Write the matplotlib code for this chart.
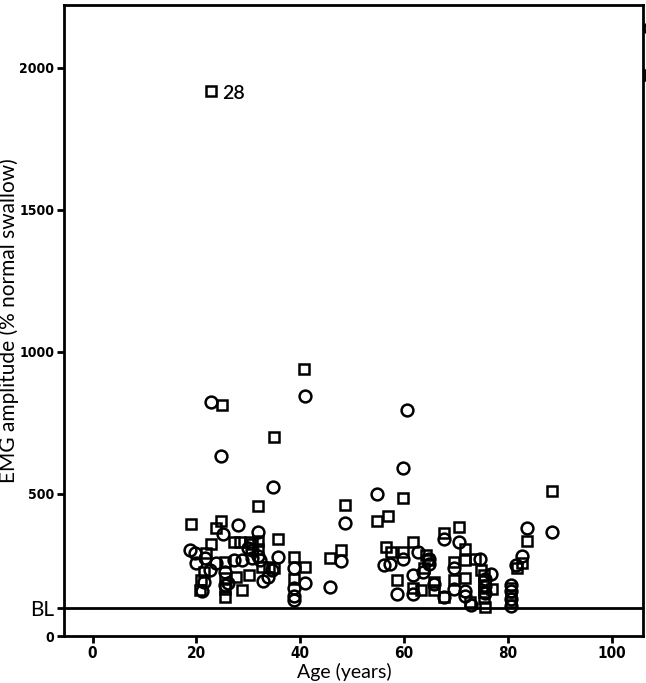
import matplotlib
matplotlib.use("Agg")
import matplotlib.pyplot as plt

# circles: age, amplitude
circ_age = [18.8, 19.7, 19.9, 21.0, 21.5, 21.7, 22.6, 22.9, 23.7, 24.8, 25.2, 25.6,
            25.6, 26.0, 27.2, 28.0, 28.8, 30.0, 30.7, 30.7, 31.9, 31.9, 32.3, 32.8,
            33.8, 34.5, 34.7, 35.8, 38.8, 38.8, 38.8, 38.8, 40.9, 40.9, 45.7, 47.8,
            48.7, 54.8, 56.2, 57.2, 58.7, 59.7, 59.7, 60.6, 61.7, 61.7, 62.6, 63.7,
            64.7, 64.8, 65.7, 67.6, 67.6, 69.6, 69.6, 70.5, 71.7, 71.7, 72.8, 74.7,
            75.5, 75.5, 75.5, 76.7, 80.6, 80.6, 80.6, 80.6, 81.5, 82.6, 83.7, 88.5]
circ_val = [302, 291, 256, 158, 191, 275, 232, 824, 256, 633, 359, 226,
            179, 187, 267, 390, 267, 310, 302, 273, 367, 281, 267, 195,
            206, 232, 525, 277, 238, 168, 141, 127, 845, 187, 173, 265,
            398, 499, 250, 253, 148, 590, 270, 795, 214, 148, 297, 226,
            252, 270, 182, 340, 136, 238, 165, 332, 160, 140, 109, 270,
            200, 175, 150, 218, 179, 160, 130, 105, 250, 281, 379, 365]

# squares: age, amplitude
sq_age = [19.0, 20.7, 20.9, 21.5, 21.8, 22.8, 22.9, 23.8, 24.8, 25.0, 25.6, 25.6,
          25.6, 25.6, 27.2, 27.7, 28.4, 28.8, 30.1, 30.4, 30.7, 31.9, 31.9, 31.9,
          32.6, 33.9, 34.9, 35.0, 35.8, 38.8, 38.8, 40.8, 40.9, 45.7, 47.8, 48.7,
          54.7, 56.5, 56.8, 57.5, 58.7, 59.7, 59.7, 61.7, 61.7, 63.2, 63.9, 64.3,
          64.6, 65.7, 65.7, 67.6, 67.7, 69.6, 69.6, 70.6, 71.7, 71.7, 71.7, 72.7,
          73.6, 74.8, 75.3, 75.3, 75.3, 75.3, 75.3, 75.6, 77.0, 80.6, 80.6, 80.6,
          81.7, 82.6, 83.7, 88.5]
sq_val = [394, 162, 197, 226, 291, 323, 1916, 379, 404, 813, 262, 203,
          164, 138, 332, 209, 332, 162, 214, 329, 323, 458, 334, 305,
          244, 244, 238, 699, 341, 279, 199, 939, 242, 273, 302, 462,
          403, 314, 422, 297, 197, 484, 297, 332, 168, 162, 240, 285,
          267, 191, 162, 361, 136, 261, 197, 384, 305, 267, 203, 120,
          270, 232, 215, 195, 175, 155, 135, 103, 164, 170, 145, 120,
          240, 258, 334, 510]

y_ticks = [0, 100, 500, 1000, 1500, 2000]
y_labels = ["0", "BL", "500", "1000", "1500", "2000"]
x_ticks = [0, 20, 40, 60, 80, 100]
baseline = 100

label_font = ['Lato', 'DejaVu Sans']

fig = plt.figure(figsize=(6.46, 6.83), dpi=100)
ax = fig.add_axes([0.099, 0.0688, 0.8964, 0.9239])

ax.plot(circ_age, circ_val, 'o', ms=8.5, mfc='none', mec='black', mew=1.8, linestyle='none')
ax.plot(sq_age, sq_val, 's', ms=7.5, mfc='none', mec='black', mew=1.8, linestyle='none')
ax.axhline(baseline, color='black', lw=2)

ax.text(25.0, 1910, "28", fontsize=14, va='center', ha='left', family=label_font, fontweight='semibold')

# cut off legend markers at the right edge
ax.plot([1.012], [0.9635], 'o', ms=8.5, mfc='none', mec='black', mew=1.8, transform=ax.transAxes, clip_on=False)
ax.plot([1.012], [0.889], 's', ms=7.5, mfc='none', mec='black', mew=1.8, transform=ax.transAxes, clip_on=False)

ax.set_xlim(-5.5, 106)
ax.set_ylim(0, 2220)
ax.set_xticks(x_ticks)
ax.set_yticks(y_ticks)
ax.set_yticklabels(y_labels)
ax.tick_params(direction='out', length=5, width=2, pad=2)
ax.tick_params(axis='x', labelsize=11)
for lab in ax.get_xticklabels() + ax.get_yticklabels():
    lab.set_family(['DejaVu Sans'])
    lab.set_fontstretch('condensed')
    lab.set_fontweight('bold')
for lab in ax.get_yticklabels():
    lab.set_fontsize(10)
bl = ax.get_yticklabels()[1]
bl.set_family(label_font)
bl.set_fontsize(15)
bl.set_fontweight('normal')

for s in ax.spines.values():
    s.set_linewidth(2)

ax.set_xlabel("Age (years)", fontsize=14, family=label_font, va='baseline')
ax.xaxis.set_label_coords(0.485, -0.067)
ax.set_ylabel("EMG amplitude (% normal swallow)", fontsize=15, family=label_font)
ax.yaxis.set_label_coords(-0.077, 0.5)

fig.savefig("out.png", dpi=100)
